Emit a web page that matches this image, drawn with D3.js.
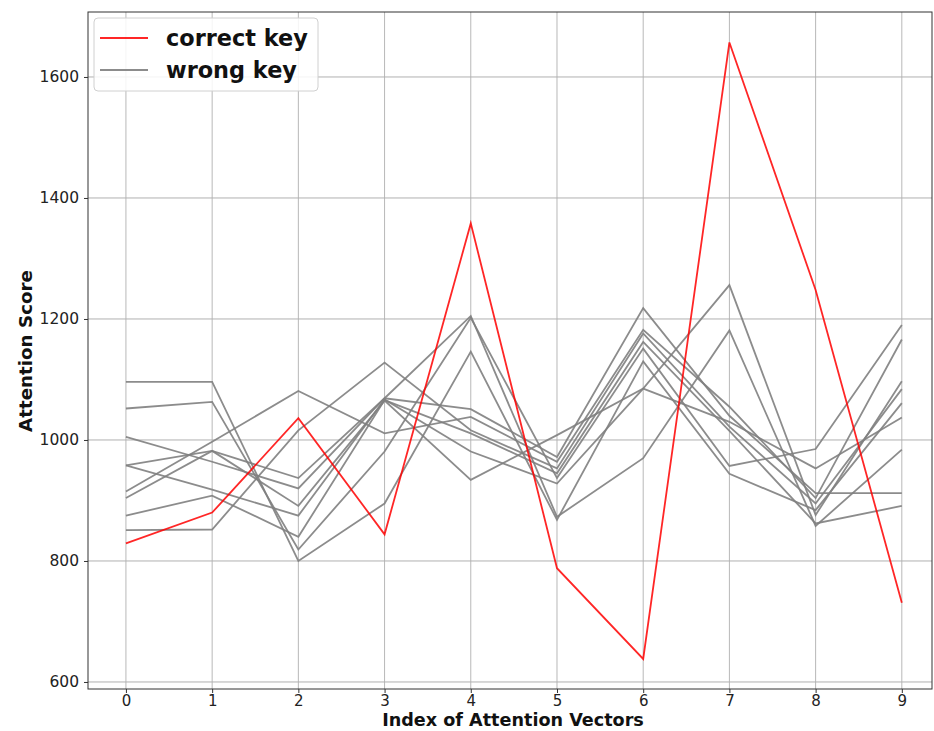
<!DOCTYPE html>
<html>
<head>
<meta charset="utf-8">
<script src="https://cdn.jsdelivr.net/npm/d3@7"></script>
<style>
  html, body { margin: 0; padding: 0; background: #fff; }
  svg { display: block; font-family: "DejaVu Sans", sans-serif; }
</style>
</head>
<body>
<svg id="chart" width="934" height="731"></svg>
<script>
// ---- data ----
const xIndex = [0, 1, 2, 3, 4, 5, 6, 7, 8, 9];
const correctKey = [829, 880, 1036, 844, 1358, 788, 638, 1657, 1248, 731];
const wrongKeyA = [1096, 1096, 800, 895, 1146, 868, 1130, 944, 884, 1061];
const wrongKeyB = [1052, 1063, 819, 981, 1202, 937, 1151, 957, 985, 1190];
const wrongKeyC = [1005, 964, 920, 1069, 1205, 873, 970, 1181, 858, 984];
const wrongKeyD = [958, 982, 937, 1069, 1051, 972, 1218, 1040, 912, 912];
const wrongKeyE = [958, 918, 875, 1067, 981, 928, 1085, 1030, 953, 1037];
const wrongKeyF = [915, 997, 1081, 1011, 1038, 964, 1182, 1055, 904, 1166];
const wrongKeyG = [904, 982, 891, 1065, 934, 1008, 1085, 1256, 876, 1097];
const wrongKeyH = [875, 908, 840, 1066, 1011, 945, 1162, 1015, 862, 891];
const wrongKeyI = [851, 852, 1016, 1128, 1016, 953, 1176, 1022, 895, 1084];
const wrongKeys = [wrongKeyA, wrongKeyB, wrongKeyC, wrongKeyD, wrongKeyE, wrongKeyF, wrongKeyG, wrongKeyH, wrongKeyI];
const yTicks = [600, 800, 1000, 1200, 1400, 1600];
const legendLabels = ["correct key", "wrong key"];
const xLabel = "Index of Attention Vectors";
const yLabel = "Attention Score";

// ---- layout ----
const L = 88, R = 932, T = 12, B = 689;
const svg = d3.select("#chart");
const x = d3.scaleLinear().domain([-0.44, 9.35]).range([L, R]);
const y = d3.scaleLinear().domain([588.4, 1707.4]).range([B, T]);

// grid
const grid = svg.append("g");
grid.selectAll("line.gx").data(xIndex).enter().append("line")
  .attr("x1", d => x(d)).attr("x2", d => x(d)).attr("y1", T).attr("y2", B)
  .attr("stroke", "#b8b8b8").attr("stroke-width", 1);
grid.selectAll("line.gy").data(yTicks).enter().append("line")
  .attr("x1", L).attr("x2", R).attr("y1", d => y(d)).attr("y2", d => y(d))
  .attr("stroke", "#b0b0b0").attr("stroke-width", 1);

// lines
const line = d3.line().x((d, i) => x(xIndex[i])).y(d => y(d));
svg.append("g").selectAll("path").data(wrongKeys).enter().append("path")
  .attr("d", line).attr("fill", "none")
  .attr("stroke", "#808080").attr("stroke-opacity", 0.9).attr("stroke-width", 1.8);
svg.append("path").datum(correctKey).attr("d", line).attr("fill", "none")
  .attr("stroke", "#ff0000").attr("stroke-opacity", 0.85).attr("stroke-width", 1.8);

// axes
const xAxis = d3.axisBottom(x).tickValues(xIndex).tickSize(4).tickPadding(2).tickFormat(d3.format("d"));
const yAxis = d3.axisLeft(y).tickValues(yTicks).tickSize(4).tickPadding(5).tickFormat(d3.format("d"));
const gx = svg.append("g").attr("transform", `translate(0,${B})`).call(xAxis);
const gy = svg.append("g").attr("transform", `translate(${L},0)`).call(yAxis);
[gx, gy].forEach(g => {
  g.select(".domain").remove();
  g.selectAll(".tick line").attr("stroke", "#333");
  g.selectAll(".tick text").attr("fill", "#222").style("font-size", "15.5px")
    .style("font-family", "DejaVu Sans, sans-serif");
});
gx.selectAll(".tick text").style("font-size", "15px");

// spines
svg.append("rect").attr("x", L).attr("y", T).attr("width", R - L).attr("height", B - T)
  .attr("fill", "none").attr("stroke", "#333").attr("stroke-width", 1);

// axis labels
svg.append("text").attr("x", 513).attr("y", 726)
  .attr("text-anchor", "middle").style("font-weight", "bold").style("font-size", "17.6px")
  .attr("fill", "#111").text(xLabel);
svg.append("text").attr("transform", `translate(32,351) rotate(-90)`)
  .attr("text-anchor", "middle").style("font-weight", "bold").style("font-size", "18.3px")
  .attr("fill", "#111").text(yLabel);

// legend
const lg = svg.append("g");
lg.append("rect").attr("x", 94).attr("y", 18).attr("width", 224).attr("height", 73)
  .attr("rx", 4).attr("fill", "#fff").attr("fill-opacity", 0.85)
  .attr("stroke", "#d0d0d0").attr("stroke-width", 1);
const legendColors = ["#ff0000", "#808080"];
const legendOpacity = [0.85, 0.9];
legendLabels.forEach((lab, i) => {
  const cy = 38 + i * 32;
  lg.append("line").attr("x1", 100).attr("x2", 148).attr("y1", cy).attr("y2", cy)
    .attr("stroke", legendColors[i]).attr("stroke-opacity", legendOpacity[i]).attr("stroke-width", 2.2);
  lg.append("text").attr("x", 166).attr("y", cy + 8)
    .style("font-weight", "bold").style("font-size", "22.4px").attr("fill", "#111").text(lab);
});
</script>
</body>
</html>
